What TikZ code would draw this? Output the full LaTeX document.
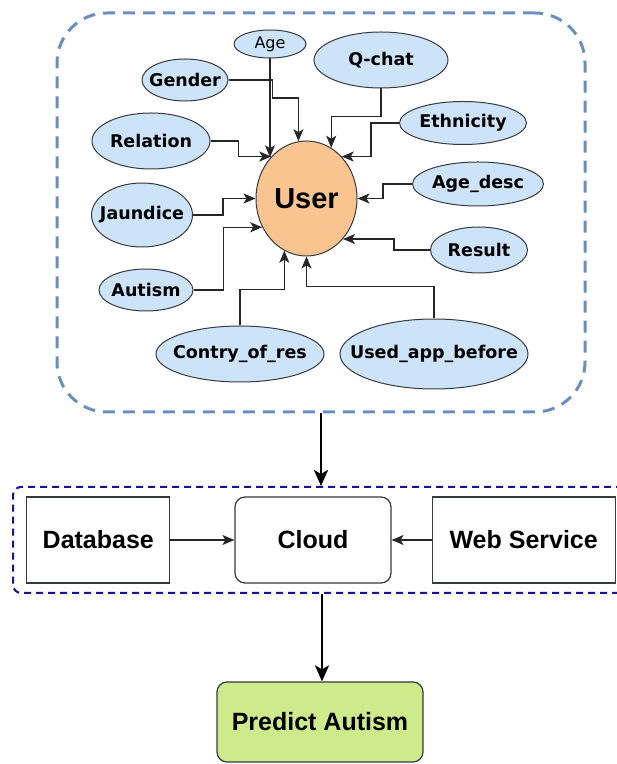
\documentclass[tikz,border=0pt]{standalone}
\usepackage{fontspec}
\setmainfont{DejaVu Sans}
\newfontfamily\arialfont{Liberation Sans}
\usepackage{tikz}
\usetikzlibrary{shapes.geometric,arrows,arrows.meta,positioning,calc}
\definecolor{ASDblue}{RGB}{204,227,250}
\definecolor{ASDpeach}{RGB}{250,196,145}
\definecolor{ASDgreen}{RGB}{205,235,139}
\definecolor{ASDgrey}{RGB}{54,57,61}
\definecolor{ASDsteel}{RGB}{108,142,191}
\definecolor{ASDnavy}{RGB}{20,20,150}
\tikzstyle{Bell}  = [ellipse, draw=ASDgrey, fill=ASDblue, line width=1pt, inner sep=0pt]
\tikzstyle{Blbl}  = [font=\bfseries\fontsize{17.5}{20}\selectfont, inner sep=0pt]
\tikzstyle{Bage}  = [font=\fontsize{16}{18}\selectfont, inner sep=0pt]
\tikzstyle{Buser} = [ellipse, draw=ASDgrey, fill=ASDpeach, line width=1pt,
                     minimum width=101pt, minimum height=115pt, inner sep=0pt,
                     font=\arialfont\bfseries\fontsize{29}{32}\selectfont]
\tikzstyle{Bbox}  = [rectangle, draw=ASDgrey, line width=1.2pt, fill=white,
                     minimum width=143pt, minimum height=86pt,
                     font=\arialfont\bfseries\fontsize{25}{28}\selectfont]
\tikzstyle{Bcld}  = [Bbox, rounded corners=10pt, minimum width=156pt]
\tikzstyle{Bout}  = [Bbox, fill=ASDgreen, rounded corners=10pt,
                     minimum width=206pt, minimum height=80pt]
\tikzstyle{Bgrp}  = [rectangle, draw=ASDsteel, line width=3pt,
                     dash pattern=on 12pt off 8pt, rounded corners=50pt]
\tikzstyle{Bgrq}  = [rectangle, draw=ASDnavy, line width=2pt,
                     dash pattern=on 7pt off 5pt, rounded corners=8pt]
\tikzstyle{link}  = [-{Stealth[length=12pt,width=10pt,inset=3pt]}, line width=1.3pt, draw=black!85]
\tikzstyle{flow}  = [-{Stealth[length=16pt,width=14pt,inset=4pt]}, line width=2.5pt]

\begin{document}
\begin{tikzpicture}[x=1pt, y=1pt]
  \useasboundingbox (0,0) rectangle (617,764);
  % groups
  \node[Bgrp, minimum width=528pt, minimum height=399pt] (grpA) at (321,551.5) {};
  \node[Bgrq, minimum width=618pt, minimum height=106pt] (grpB) at (322,224) {};
  % user and its attributes
  \node[Buser] (user) at (306.5,565.5) {User};
  \node[Bell, minimum width=72pt,  minimum height=28pt, label={[Bage]center:Age}] (age) at (270,720) {};
  \node[Bell, minimum width=86pt,  minimum height=42pt, label={[Blbl]center:Gender}] (gen) at (185,684) {};
  \node[Bell, minimum width=134pt, minimum height=56pt, label={[Blbl]center:Q-chat}] (qchat) at (381,704) {};
  \node[Bell, minimum width=118pt, minimum height=56pt, label={[Blbl]center:Relation}] (rel) at (151,623) {};
  \node[Bell, minimum width=127pt, minimum height=43pt, label={[Blbl]center:Ethnicity}] (eth) at (463,641) {};
  \node[Bell, minimum width=131pt, minimum height=44pt, label={[Blbl]center:Age\_desc}] (agd) at (478,580) {};
  \node[Bell, minimum width=101pt, minimum height=64pt, label={[Blbl]center:Jaundice}] (jau) at (142,549) {};
  \node[Bell, minimum width=97pt,  minimum height=46pt, label={[Blbl]center:Result}] (res) at (479,514) {};
  \node[Bell, minimum width=94pt,  minimum height=42pt, label={[Blbl]center:Autism}] (aut) at (146,474) {};
  \node[Bell, minimum width=168pt, minimum height=56pt, label={[Blbl]center:Contry\_of\_res}] (cor) at (240,410) {};
  \node[Bell, minimum width=188pt, minimum height=70pt, label={[Blbl]center:Used\_app\_before}] (uab) at (434,410) {};
  \draw[link] (age.south) -- (age.south |- user.131);
  \draw[link] (gen.east) -- ++(44,0) -- ++(0,-18) -| (user.98.5);
  \draw[link] (qchat.south) -- ++(0,-28) -| (user.64);
  \draw[link] (rel.east) -- ++(28,0) |- (user.130);
  \draw[link] (eth.west) -- ++(-28,0) |- (user.50);
  \draw[link] (agd.west) -- ++(-29,0) |- (user.east);
  \draw[link] (res.west) -- ++(-36,0) |- (user.-48);
  \draw[link] (jau.east) -- ++(30,0) |- (user.west);
  \draw[link] (aut.east) -- ++(30,0) |- (user.213);
  \draw[link] (cor.north) -- ++(0,36) -| (user.247.5);
  \draw[link] (uab.north) -- ++(0,32) -| (user.south);
  % services
  \node[Bcld] (cloud) at (313,224) {Cloud};
  \node[Bbox, left=64pt of cloud] (db) {Database};
  \node[Bbox, minimum width=183pt, right=40pt of cloud] (web) {Web Service};
  \draw[link] (db) -- (cloud);
  \draw[link] (web) -- (cloud);
  % result
  \node[Bout] (pred) at (320,42) {Predict Autism};
  \draw[flow] (grpA.south) -- (grpA.south |- grpB.north);
  \draw[flow] (grpB.south) -- (grpB.south |- pred.north);
\end{tikzpicture}
\end{document}
